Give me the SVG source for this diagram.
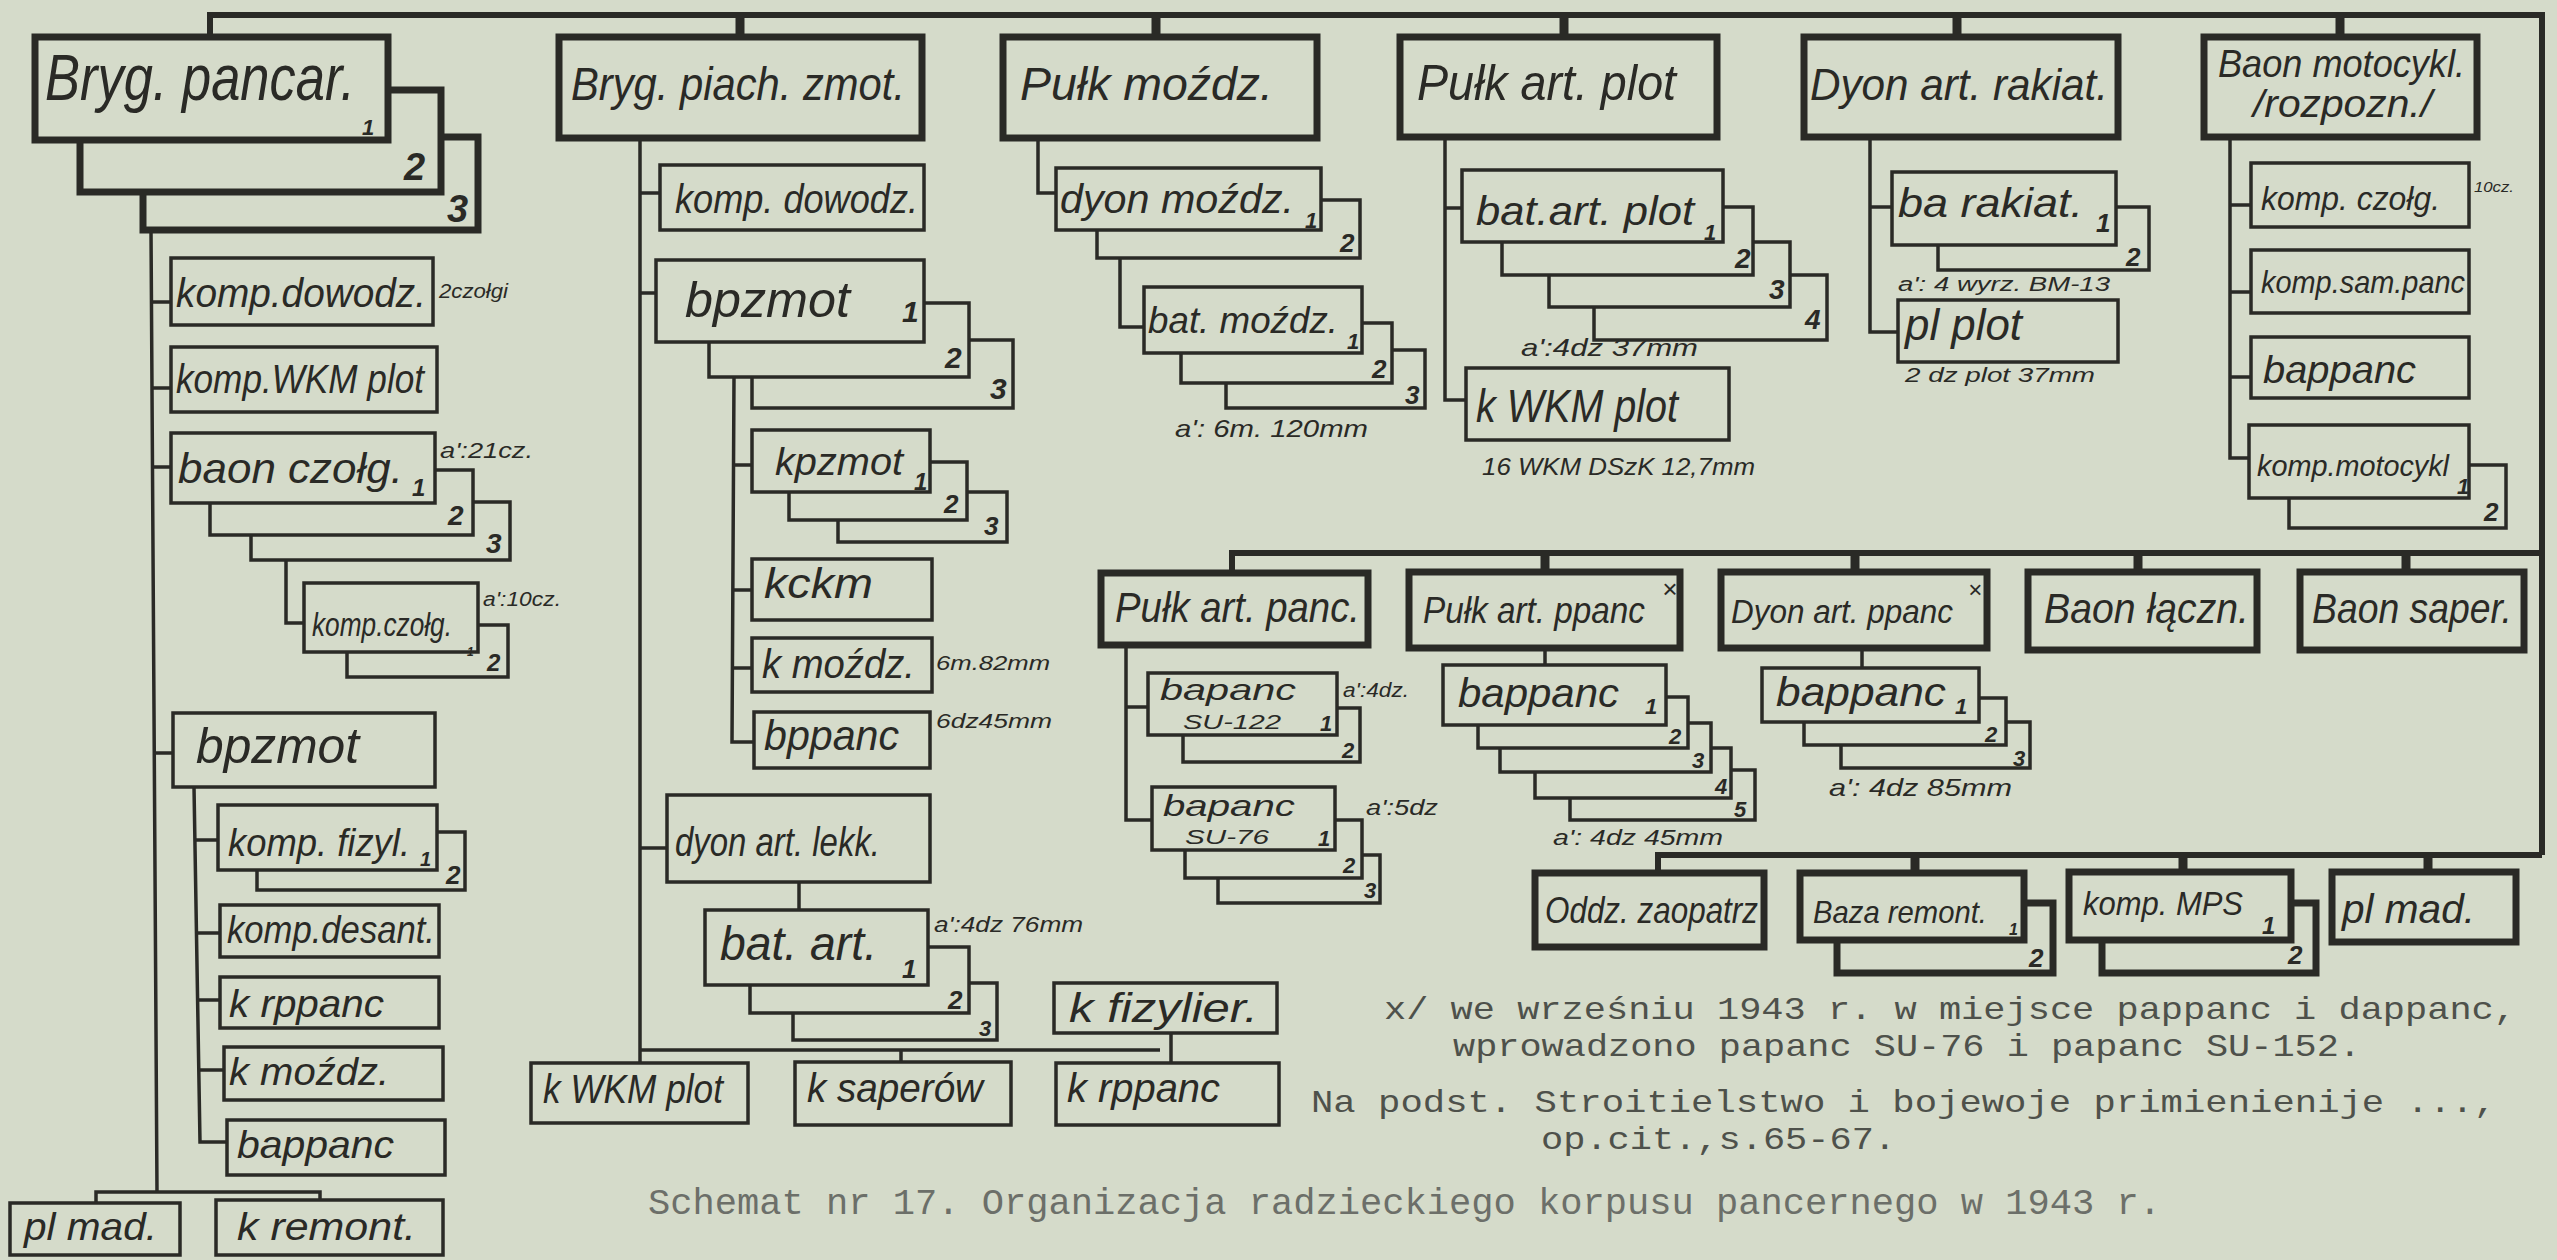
<svg xmlns="http://www.w3.org/2000/svg" width="2557" height="1260" viewBox="0 0 2557 1260">
<style>
.T{fill:#d5dbca;stroke:#2a2a26;stroke-width:7}
.S{fill:#d5dbca;stroke:#2a2a26;stroke-width:3.5}
.c{fill:none;stroke:#2a2a26;stroke-width:3.5}
.bus{fill:none;stroke:#2a2a26;stroke-width:6}
.stub{fill:none;stroke:#2a2a26;stroke-width:9}
.hw{font-family:"Liberation Sans",Arial,sans-serif;font-style:italic;fill:#2a2a26}
.n{font-family:"Liberation Sans",Arial,sans-serif;font-style:italic;font-weight:bold;fill:#2a2a26}
.tw{font-family:"Liberation Mono","Courier New",monospace;fill:#4e514b}
.cap{font-family:"Liberation Mono","Courier New",monospace;fill:#6c6f69}
</style>
<rect x="0" y="0" width="2557" height="1260" fill="#d5dbca"/>

<g id="connectors">
  <path class="bus" d="M210,37 V15 H2542 V855"/>
  <path class="bus" d="M1232,573 V553 H2542"/>
  <path class="bus" d="M1658,873 V855 H2542"/>
  <path class="stub" d="M740,15 V37 M1156,15 V37 M1564,15 V37 M1957,15 V37 M2340,15 V37"/>
  <path class="stub" d="M1545,553 V572 M1855,553 V572 M2138,553 V572 M2406,553 V572"/>
  <path class="stub" d="M1915,855 V873 M2183,855 V872 M2428,855 V872"/>
  <path class="c" d="M151,230 L157,1192 M96,1203 V1192 H320 V1203"/>
  <path class="c" d="M151,302 H171 M152,388 H171 M152,467 H171 M154,753 H173"/>
  <path class="c" d="M286,560 V623 H304"/>
  <path class="c" d="M194,787 L200,1142 H227 M196,840 H218 M197,933 H220 M198,1000 H220 M199,1070 H224"/>
  <path class="c" d="M640,138 V1063 M640,1050 H1160 M901,1050 V1062 M1171,1033 V1063"/>
  <path class="c" d="M640,193 H660 M640,293 H656 M640,848 H667"/>
  <path class="c" d="M734,377 L732,742 H754 M732,465 H752 M732,590 H752 M732,668 H752"/>
  <path class="c" d="M799,882 V910"/>
  <path class="c" d="M1038,138 V193 H1056 M1120,258 V327 H1144"/>
  <path class="c" d="M1445,137 V400 H1466 M1445,208 H1462"/>
  <path class="c" d="M1870,137 V332 H1898 M1870,207 H1892"/>
  <path class="c" d="M2230,137 V458 H2249 M2230,205 H2251 M2230,292 H2251 M2230,377 H2251"/>
  <path class="c" d="M1126,645 V820 H1152 M1126,707 H1148 M1545,648 V665 M1862,648 V668"/>
</g>

<g id="bryg-pancar">
  <rect class="T" x="143" y="137" width="335" height="93"/>
  <rect class="T" x="80" y="90" width="361" height="102"/>
  <rect class="T" x="35" y="37" width="353" height="103"/>
  <text class="hw" x="45" y="100" font-size="64" textLength="310" lengthAdjust="spacingAndGlyphs">Bryg. pancar.</text>
  <text class="n" x="362" y="135" font-size="22">1</text>
  <text class="n" x="404" y="180" font-size="38">2</text>
  <text class="n" x="447" y="222" font-size="38">3</text>
</g>
<g id="bp-komp-dowodz">
  <rect class="S" x="171" y="258" width="262" height="67"/>
  <text class="hw" x="176" y="307" font-size="40" textLength="250" lengthAdjust="spacingAndGlyphs">komp.dowodz.</text>
  <text class="hw" x="439" y="298" font-size="20" textLength="69" lengthAdjust="spacingAndGlyphs">2czołgi</text>
</g>
<g id="bp-komp-wkm">
  <rect class="S" x="171" y="347" width="266" height="65"/>
  <text class="hw" x="176" y="393" font-size="40" textLength="248" lengthAdjust="spacingAndGlyphs">komp.WKM plot</text>
</g>
<g id="bp-baon-czolg">
  <rect class="S" x="251" y="502" width="259" height="58"/>
  <rect class="S" x="210" y="470" width="263" height="65"/>
  <rect class="S" x="171" y="433" width="264" height="70"/>
  <text class="hw" x="178" y="483" font-size="42" textLength="225" lengthAdjust="spacingAndGlyphs">baon czołg.</text>
  <text class="n" x="412" y="496" font-size="24">1</text>
  <text class="n" x="448" y="525" font-size="28">2</text>
  <text class="n" x="486" y="553" font-size="28">3</text>
  <text class="hw" x="440" y="458" font-size="22" textLength="93" lengthAdjust="spacingAndGlyphs">a':21cz.</text>
</g>
<g id="bp-komp-czolg">
  <rect class="S" x="347" y="625" width="161" height="52"/>
  <rect class="S" x="304" y="583" width="174" height="69"/>
  <text class="hw" x="312" y="636" font-size="34" textLength="140" lengthAdjust="spacingAndGlyphs">komp.czołg.</text>
  <text class="n" x="467" y="656" font-size="12">1</text>
  <text class="n" x="487" y="671" font-size="24">2</text>
  <text class="hw" x="483" y="606" font-size="20" textLength="78" lengthAdjust="spacingAndGlyphs">a':10cz.</text>
</g>
<g id="bp-bpzmot">
  <rect class="S" x="173" y="713" width="262" height="74"/>
  <text class="hw" x="196" y="763" font-size="50" textLength="163" lengthAdjust="spacingAndGlyphs">bpzmot</text>
</g>
<g id="bp-komp-fizyl">
  <rect class="S" x="257" y="832" width="208" height="58"/>
  <rect class="S" x="218" y="805" width="219" height="65"/>
  <text class="hw" x="228" y="856" font-size="38" textLength="182" lengthAdjust="spacingAndGlyphs">komp. fizyl.</text>
  <text class="n" x="420" y="866" font-size="20">1</text>
  <text class="n" x="446" y="884" font-size="26">2</text>
</g>
<g id="bp-komp-desant">
  <rect class="S" x="220" y="905" width="219" height="52"/>
  <text class="hw" x="227" y="943" font-size="38" textLength="208" lengthAdjust="spacingAndGlyphs">komp.desant.</text>
</g>
<g id="bp-krppanc">
  <rect class="S" x="220" y="977" width="219" height="51"/>
  <text class="hw" x="229" y="1017" font-size="38" textLength="155" lengthAdjust="spacingAndGlyphs">k rppanc</text>
</g>
<g id="bp-k-mozdz">
  <rect class="S" x="224" y="1047" width="219" height="53"/>
  <text class="hw" x="229" y="1085" font-size="38" textLength="160" lengthAdjust="spacingAndGlyphs">k moźdz.</text>
</g>
<g id="bp-bappanc">
  <rect class="S" x="227" y="1120" width="218" height="55"/>
  <text class="hw" x="237" y="1158" font-size="38" textLength="157" lengthAdjust="spacingAndGlyphs">bappanc</text>
</g>
<g id="bp-pl-mad">
  <rect class="S" x="10" y="1203" width="170" height="52"/>
  <text class="hw" x="24" y="1240" font-size="38" textLength="133" lengthAdjust="spacingAndGlyphs">pl mad.</text>
</g>
<g id="bp-k-remont">
  <rect class="S" x="216" y="1200" width="227" height="55"/>
  <text class="hw" x="237" y="1240" font-size="38" textLength="179" lengthAdjust="spacingAndGlyphs">k remont.</text>
</g>

<g id="bryg-piach">
  <rect class="T" x="559" y="37" width="363" height="101"/>
  <text class="hw" x="571" y="100" font-size="46" textLength="334" lengthAdjust="spacingAndGlyphs">Bryg. piach. zmot.</text>
</g>
<g id="bz-komp-dowodz">
  <rect class="S" x="660" y="165" width="264" height="65"/>
  <text class="hw" x="675" y="213" font-size="40" textLength="243" lengthAdjust="spacingAndGlyphs">komp. dowodz.</text>
</g>
<g id="bz-bpzmot">
  <rect class="S" x="752" y="340" width="261" height="68"/>
  <rect class="S" x="709" y="303" width="260" height="74"/>
  <rect class="S" x="656" y="260" width="268" height="82"/>
  <text class="hw" x="685" y="317" font-size="50" textLength="165" lengthAdjust="spacingAndGlyphs">bpzmot</text>
  <text class="n" x="902" y="322" font-size="30">1</text>
  <text class="n" x="945" y="368" font-size="30">2</text>
  <text class="n" x="990" y="399" font-size="30">3</text>
</g>
<g id="bz-kpzmot">
  <rect class="S" x="838" y="492" width="169" height="50"/>
  <rect class="S" x="789" y="462" width="178" height="58"/>
  <rect class="S" x="752" y="430" width="178" height="62"/>
  <text class="hw" x="775" y="475" font-size="38" textLength="128" lengthAdjust="spacingAndGlyphs">kpzmot</text>
  <text class="n" x="914" y="490" font-size="24">1</text>
  <text class="n" x="944" y="513" font-size="26">2</text>
  <text class="n" x="984" y="535" font-size="26">3</text>
</g>
<g id="bz-kckm">
  <rect class="S" x="752" y="559" width="180" height="61"/>
  <text class="hw" x="764" y="598" font-size="42" textLength="109" lengthAdjust="spacingAndGlyphs">kckm</text>
</g>
<g id="bz-k-mozdz">
  <rect class="S" x="752" y="638" width="180" height="54"/>
  <text class="hw" x="762" y="678" font-size="40" textLength="153" lengthAdjust="spacingAndGlyphs">k moźdz.</text>
  <text class="hw" x="936" y="670" font-size="20" textLength="114" lengthAdjust="spacingAndGlyphs">6m.82mm</text>
</g>
<g id="bz-bppanc">
  <rect class="S" x="754" y="712" width="176" height="56"/>
  <text class="hw" x="764" y="750" font-size="42" textLength="135" lengthAdjust="spacingAndGlyphs">bppanc</text>
  <text class="hw" x="936" y="728" font-size="20" textLength="116" lengthAdjust="spacingAndGlyphs">6dz45mm</text>
</g>
<g id="bz-dyon-lekk">
  <rect class="S" x="667" y="795" width="263" height="87"/>
  <text class="hw" x="675" y="856" font-size="40" textLength="205" lengthAdjust="spacingAndGlyphs">dyon art. lekk.</text>
</g>
<g id="bz-bat-art">
  <rect class="S" x="793" y="983" width="204" height="57"/>
  <rect class="S" x="750" y="947" width="219" height="66"/>
  <rect class="S" x="705" y="910" width="223" height="75"/>
  <text class="hw" x="720" y="960" font-size="48" textLength="157" lengthAdjust="spacingAndGlyphs">bat. art.</text>
  <text class="n" x="902" y="978" font-size="26">1</text>
  <text class="n" x="948" y="1009" font-size="26">2</text>
  <text class="n" x="979" y="1036" font-size="22">3</text>
  <text class="hw" x="934" y="932" font-size="22" textLength="149" lengthAdjust="spacingAndGlyphs">a':4dz 76mm</text>
</g>
<g id="bz-k-fizylier">
  <rect class="S" x="1054" y="983" width="223" height="50"/>
  <text class="hw" x="1069" y="1022" font-size="40" textLength="189" lengthAdjust="spacingAndGlyphs">k fizylier.</text>
</g>
<g id="bz-k-wkm">
  <rect class="S" x="531" y="1063" width="217" height="60"/>
  <text class="hw" x="543" y="1103" font-size="40" textLength="180" lengthAdjust="spacingAndGlyphs">k WKM plot</text>
</g>
<g id="bz-k-saperow">
  <rect class="S" x="795" y="1062" width="216" height="63"/>
  <text class="hw" x="807" y="1102" font-size="40" textLength="176" lengthAdjust="spacingAndGlyphs">k saperów</text>
</g>
<g id="bz-krppanc">
  <rect class="S" x="1056" y="1063" width="223" height="62"/>
  <text class="hw" x="1067" y="1102" font-size="40" textLength="153" lengthAdjust="spacingAndGlyphs">k rppanc</text>
</g>

<g id="pulk-mozdz">
  <rect class="T" x="1003" y="37" width="314" height="101"/>
  <text class="hw" x="1020" y="100" font-size="46" textLength="253" lengthAdjust="spacingAndGlyphs">Pułk moźdz.</text>
</g>
<g id="pm-dyon-mozdz">
  <rect class="S" x="1097" y="200" width="263" height="58"/>
  <rect class="S" x="1056" y="168" width="265" height="62"/>
  <text class="hw" x="1060" y="213" font-size="40" textLength="234" lengthAdjust="spacingAndGlyphs">dyon moźdz.</text>
  <text class="n" x="1305" y="228" font-size="22">1</text>
  <text class="n" x="1340" y="252" font-size="26">2</text>
</g>
<g id="pm-bat-mozdz">
  <rect class="S" x="1226" y="350" width="199" height="58"/>
  <rect class="S" x="1181" y="323" width="211" height="60"/>
  <rect class="S" x="1144" y="287" width="218" height="66"/>
  <text class="hw" x="1148" y="333" font-size="36" textLength="190" lengthAdjust="spacingAndGlyphs">bat. moźdz.</text>
  <text class="n" x="1347" y="349" font-size="22">1</text>
  <text class="n" x="1372" y="378" font-size="26">2</text>
  <text class="n" x="1405" y="404" font-size="26">3</text>
  <text class="hw" x="1175" y="437" font-size="24" textLength="193" lengthAdjust="spacingAndGlyphs">a': 6m. 120mm</text>
</g>

<g id="pulk-art-plot">
  <rect class="T" x="1400" y="37" width="317" height="100"/>
  <text class="hw" x="1417" y="100" font-size="50" textLength="259" lengthAdjust="spacingAndGlyphs">Pułk art. plot</text>
</g>
<g id="pp-bat-art-plot">
  <rect class="S" x="1594" y="275" width="233" height="65"/>
  <rect class="S" x="1549" y="242" width="241" height="65"/>
  <rect class="S" x="1502" y="207" width="251" height="68"/>
  <rect class="S" x="1462" y="170" width="261" height="72"/>
  <text class="hw" x="1476" y="225" font-size="40" textLength="218" lengthAdjust="spacingAndGlyphs">bat.art. plot</text>
  <text class="n" x="1704" y="240" font-size="22">1</text>
  <text class="n" x="1735" y="268" font-size="28">2</text>
  <text class="n" x="1769" y="299" font-size="28">3</text>
  <text class="n" x="1805" y="329" font-size="28">4</text>
  <text class="hw" x="1521" y="356" font-size="24" textLength="177" lengthAdjust="spacingAndGlyphs">a':4dz 37mm</text>
</g>
<g id="pp-k-wkm">
  <rect class="S" x="1466" y="368" width="263" height="72"/>
  <text class="hw" x="1476" y="422" font-size="46" textLength="202" lengthAdjust="spacingAndGlyphs">k WKM plot</text>
  <text class="hw" x="1482" y="475" font-size="24" textLength="273" lengthAdjust="spacingAndGlyphs">16 WKM DSzK 12,7mm</text>
</g>

<g id="dyon-rakiat">
  <rect class="T" x="1804" y="37" width="314" height="100"/>
  <text class="hw" x="1810" y="100" font-size="44" textLength="298" lengthAdjust="spacingAndGlyphs">Dyon art. rakiat.</text>
</g>
<g id="dr-ba-rakiat">
  <rect class="S" x="1938" y="207" width="211" height="63"/>
  <rect class="S" x="1892" y="172" width="224" height="73"/>
  <text class="hw" x="1898" y="217" font-size="40" textLength="185" lengthAdjust="spacingAndGlyphs">ba rakiat.</text>
  <text class="n" x="2096" y="232" font-size="26">1</text>
  <text class="n" x="2126" y="266" font-size="26">2</text>
  <text class="hw" x="1898" y="291" font-size="20" textLength="212" lengthAdjust="spacingAndGlyphs">a': 4 wyrz. BM-13</text>
</g>
<g id="dr-pl-plot">
  <rect class="S" x="1898" y="300" width="220" height="62"/>
  <text class="hw" x="1905" y="340" font-size="44" textLength="117" lengthAdjust="spacingAndGlyphs">pl plot</text>
  <text class="hw" x="1905" y="382" font-size="20" textLength="190" lengthAdjust="spacingAndGlyphs">2 dz plot 37mm</text>
</g>

<g id="baon-motocykl">
  <rect class="T" x="2204" y="37" width="273" height="100"/>
  <text class="hw" x="2218" y="77" font-size="38" textLength="247" lengthAdjust="spacingAndGlyphs">Baon motocykl.</text>
  <text class="hw" x="2253" y="117" font-size="38" textLength="179" lengthAdjust="spacingAndGlyphs">/rozpozn./</text>
</g>
<g id="bm-komp-czolg">
  <rect class="S" x="2251" y="163" width="218" height="64"/>
  <text class="hw" x="2261" y="210" font-size="34" textLength="179" lengthAdjust="spacingAndGlyphs">komp. czołg.</text>
  <text class="hw" x="2474" y="192" font-size="14" textLength="40" lengthAdjust="spacingAndGlyphs">10cz.</text>
</g>
<g id="bm-komp-sam-panc">
  <rect class="S" x="2251" y="250" width="218" height="63"/>
  <text class="hw" x="2261" y="293" font-size="32" textLength="204" lengthAdjust="spacingAndGlyphs">komp.sam.panc</text>
</g>
<g id="bm-bappanc">
  <rect class="S" x="2251" y="337" width="218" height="61"/>
  <text class="hw" x="2263" y="383" font-size="38" textLength="153" lengthAdjust="spacingAndGlyphs">bappanc</text>
</g>
<g id="bm-komp-motocykl">
  <rect class="S" x="2289" y="465" width="217" height="63"/>
  <rect class="S" x="2249" y="425" width="220" height="73"/>
  <text class="hw" x="2257" y="476" font-size="30" textLength="192" lengthAdjust="spacingAndGlyphs">komp.motocykl</text>
  <text class="n" x="2457" y="494" font-size="22">1</text>
  <text class="n" x="2484" y="521" font-size="26">2</text>
</g>

<g id="pulk-art-panc">
  <rect class="T" x="1101" y="573" width="267" height="72"/>
  <text class="hw" x="1115" y="622" font-size="42" textLength="245" lengthAdjust="spacingAndGlyphs">Pułk art. panc.</text>
</g>
<g id="pa-su122">
  <rect class="S" x="1183" y="708" width="177" height="54"/>
  <rect class="S" x="1148" y="673" width="189" height="62"/>
  <text class="hw" x="1160" y="700" font-size="30" textLength="136" lengthAdjust="spacingAndGlyphs">bapanc</text>
  <text class="hw" x="1183" y="729" font-size="20" textLength="98" lengthAdjust="spacingAndGlyphs">SU-122</text>
  <text class="n" x="1320" y="731" font-size="22">1</text>
  <text class="n" x="1342" y="758" font-size="22">2</text>
  <text class="hw" x="1343" y="697" font-size="20" textLength="66" lengthAdjust="spacingAndGlyphs">a':4dz.</text>
</g>
<g id="pa-su76">
  <rect class="S" x="1218" y="855" width="162" height="48"/>
  <rect class="S" x="1185" y="820" width="177" height="58"/>
  <rect class="S" x="1152" y="787" width="183" height="63"/>
  <text class="hw" x="1163" y="816" font-size="30" textLength="132" lengthAdjust="spacingAndGlyphs">bapanc</text>
  <text class="hw" x="1185" y="844" font-size="20" textLength="84" lengthAdjust="spacingAndGlyphs">SU-76</text>
  <text class="n" x="1318" y="846" font-size="22">1</text>
  <text class="n" x="1343" y="873" font-size="22">2</text>
  <text class="n" x="1364" y="898" font-size="22">3</text>
  <text class="hw" x="1366" y="815" font-size="22" textLength="72" lengthAdjust="spacingAndGlyphs">a':5dz</text>
</g>

<g id="pulk-art-ppanc">
  <rect class="T" x="1409" y="572" width="271" height="76"/>
  <text class="hw" x="1423" y="623" font-size="36" textLength="222" lengthAdjust="spacingAndGlyphs">Pułk art. ppanc</text>
  <text class="hw" x="1662" y="598" font-size="26">×</text>
</g>
<g id="ppa-bappanc">
  <rect class="S" x="1570" y="770" width="185" height="50"/>
  <rect class="S" x="1535" y="748" width="196" height="50"/>
  <rect class="S" x="1500" y="723" width="211" height="49"/>
  <rect class="S" x="1478" y="697" width="210" height="51"/>
  <rect class="S" x="1443" y="665" width="223" height="60"/>
  <text class="hw" x="1458" y="707" font-size="40" textLength="161" lengthAdjust="spacingAndGlyphs">bappanc</text>
  <text class="n" x="1645" y="714" font-size="22">1</text>
  <text class="n" x="1669" y="744" font-size="22">2</text>
  <text class="n" x="1692" y="768" font-size="22">3</text>
  <text class="n" x="1715" y="794" font-size="22">4</text>
  <text class="n" x="1734" y="817" font-size="22">5</text>
  <text class="hw" x="1553" y="845" font-size="22" textLength="170" lengthAdjust="spacingAndGlyphs">a': 4dz 45mm</text>
</g>

<g id="dyon-art-ppanc">
  <rect class="T" x="1721" y="572" width="266" height="76"/>
  <text class="hw" x="1731" y="623" font-size="34" textLength="222" lengthAdjust="spacingAndGlyphs">Dyon art. ppanc</text>
  <text class="hw" x="1968" y="598" font-size="24">×</text>
</g>
<g id="dpa-bappanc">
  <rect class="S" x="1841" y="722" width="189" height="46"/>
  <rect class="S" x="1804" y="698" width="202" height="47"/>
  <rect class="S" x="1762" y="668" width="217" height="54"/>
  <text class="hw" x="1776" y="706" font-size="40" textLength="170" lengthAdjust="spacingAndGlyphs">bappanc</text>
  <text class="n" x="1955" y="714" font-size="22">1</text>
  <text class="n" x="1985" y="742" font-size="22">2</text>
  <text class="n" x="2013" y="766" font-size="22">3</text>
  <text class="hw" x="1829" y="796" font-size="24" textLength="183" lengthAdjust="spacingAndGlyphs">a': 4dz 85mm</text>
</g>

<g id="baon-laczn">
  <rect class="T" x="2028" y="572" width="229" height="78"/>
  <text class="hw" x="2044" y="623" font-size="42" textLength="205" lengthAdjust="spacingAndGlyphs">Baon łączn.</text>
</g>
<g id="baon-saper">
  <rect class="T" x="2300" y="572" width="224" height="78"/>
  <text class="hw" x="2312" y="623" font-size="42" textLength="200" lengthAdjust="spacingAndGlyphs">Baon saper.</text>
</g>

<g id="oddz-zaopatrz">
  <rect class="T" x="1535" y="873" width="229" height="74"/>
  <text class="hw" x="1545" y="923" font-size="36" textLength="213" lengthAdjust="spacingAndGlyphs">Oddz. zaopatrz</text>
</g>
<g id="baza-remont">
  <rect class="T" x="1837" y="903" width="216" height="70"/>
  <rect class="T" x="1800" y="873" width="224" height="67"/>
  <text class="hw" x="1813" y="923" font-size="32" textLength="174" lengthAdjust="spacingAndGlyphs">Baza remont.</text>
  <text class="n" x="2009" y="935" font-size="16">1</text>
  <text class="n" x="2029" y="967" font-size="26">2</text>
</g>
<g id="komp-mps">
  <rect class="T" x="2102" y="903" width="214" height="70"/>
  <rect class="T" x="2069" y="872" width="222" height="68"/>
  <text class="hw" x="2083" y="915" font-size="33" textLength="160" lengthAdjust="spacingAndGlyphs">komp. MPS</text>
  <text class="n" x="2262" y="934" font-size="24">1</text>
  <text class="n" x="2288" y="964" font-size="26">2</text>
</g>
<g id="pl-mad">
  <rect class="T" x="2332" y="872" width="184" height="70"/>
  <text class="hw" x="2342" y="923" font-size="40" textLength="133" lengthAdjust="spacingAndGlyphs">pl mad.</text>
</g>

<g id="notes">
  <text class="tw" x="1384" y="1019" font-size="32" textLength="1132" lengthAdjust="spacingAndGlyphs">x/ we wrześniu 1943 r. w miejsce pappanc i dappanc,</text>
  <text class="tw" x="1453" y="1056" font-size="32" textLength="908" lengthAdjust="spacingAndGlyphs">wprowadzono papanc SU-76 i papanc SU-152.</text>
  <text class="tw" x="1311" y="1112" font-size="32" textLength="1185" lengthAdjust="spacingAndGlyphs">Na podst. Stroitielstwo i bojewoje primienienije ...,</text>
  <text class="tw" x="1541" y="1149" font-size="32" textLength="355" lengthAdjust="spacingAndGlyphs">op.cit.,s.65-67.</text>
  <text class="cap" x="648" y="1214" font-size="36" textLength="1513" lengthAdjust="spacingAndGlyphs">Schemat nr 17. Organizacja radzieckiego korpusu pancernego w 1943 r.</text>
</g>
</svg>
